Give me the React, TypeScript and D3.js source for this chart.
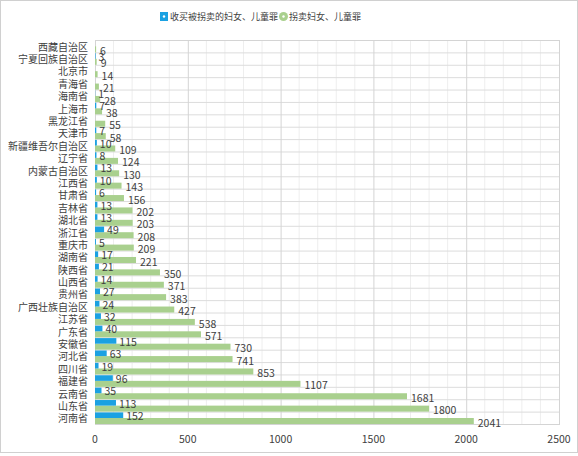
import React from "react";
import * as d3 from "d3";

const categories = [
  "西藏自治区", "宁夏回族自治区", "北京市", "青海省", "海南省", "上海市", "黑龙江省", "天津市",
  "新疆维吾尔自治区", "辽宁省", "内蒙古自治区", "江西省", "甘肃省", "吉林省", "湖北省", "浙江省",
  "重庆市", "湖南省", "陕西省", "山西省", "贵州省", "广西壮族自治区", "江苏省", "广东省",
  "安徽省", "河北省", "四川省", "福建省", "云南省", "山东省", "河南省",
];
const buyValues: (number | null)[] = [
  null, 3, null, null, 1, 7, null, 7, 10, 8, 13, 10, 6, 13, 13, 49,
  5, 17, 21, 14, 27, 24, 32, 40, 115, 63, 19, 96, 35, 113, 152,
];
const traffickValues: number[] = [
  6, 9, 14, 21, 28, 38, 55, 58, 109, 124, 130, 143, 156, 202, 203, 208,
  209, 221, 350, 371, 383, 427, 538, 571, 730, 741, 853, 1107, 1681, 1800, 2041,
];
const seriesNames = ["收买被拐卖的妇女、儿童罪", "拐卖妇女、儿童罪"];
const xTicks = [0, 500, 1000, 1500, 2000, 2500];

const W = 578, H = 456;
const BLUE = "#1ba1e2";
const GREEN = "#a9d08e";
const TEXT = "#404040";
const FONT = "'Noto Sans CJK SC', 'Liberation Sans', sans-serif";

export default function App() {
  const x = d3.scaleLinear().domain([0, 2500]).range([95, 559]);
  const y = d3.scaleBand().domain(categories).range([40, 424]).paddingInner(0);
  const bw = y.bandwidth();
  const minor = d3.range(0, 2501, 100);
  return (
    <div style={{ position: "fixed", left: 0, top: 0 }}>
      <svg width={W} height={H} style={{ display: "block", background: "#fff" }}>
        <rect x={0.5} y={0.5} width={W - 1} height={H - 4} fill="#fff" stroke="#d0d0d0" />
        {/* minor grid */}
        {minor.filter((v) => v % 500 !== 0).map((v) => (
          <line key={"m" + v} x1={x(v)} x2={x(v)} y1={40} y2={424} stroke="#eeeeee" />
        ))}
        {categories.map((c) => (
          <line key={"h" + c} x1={95} x2={559} y1={(y(c) as number) + 0.5} y2={(y(c) as number) + 0.5} stroke="#dcdcdc" />
        ))}
        {xTicks.map((v) => (
          <line key={"M" + v} x1={x(v) + 0.5} x2={x(v) + 0.5} y1={40} y2={424} stroke="#d4d4d4" />
        ))}
        <rect x={95.5} y={40.5} width={464} height={384} fill="none" stroke="#d4d4d4" />
        {/* bars */}
        {categories.map((c, i) => {
          const top = y(c) as number;
          const b = buyValues[i];
          const g = traffickValues[i];
          return (
            <g key={"b" + c}>
              <rect x={x(0)} y={top + 6.4} width={x(g) - x(0)} height={6} fill={GREEN} />
              {b !== null && (
                <rect x={x(0)} y={top + 0.8} width={Math.max(x(b) - x(0), 0)} height={5.6} fill={BLUE} />
              )}
            </g>
          );
        })}
        {/* data labels */}
        {categories.map((c, i) => {
          const top = y(c) as number;
          const b = buyValues[i];
          const g = traffickValues[i];
          return (
            <g key={"l" + c} fontFamily={FONT} fontSize={10.5} fill={TEXT}>
              {b !== null && (
                <text x={x(b) + 3} y={top + 4} dominantBaseline="central">{b}</text>
              )}
              <text x={x(g) + 4} y={top + 10.5} dominantBaseline="central">{g}</text>
            </g>
          );
        })}
        {/* category labels */}
        {categories.map((c) => (
          <text key={"c" + c} x={88} y={(y(c) as number) + bw / 2} textAnchor="end" dominantBaseline="central"
            fontFamily={FONT} fontSize={10} fill={TEXT}>{c}</text>
        ))}
        {/* x tick labels */}
        {xTicks.map((v) => (
          <text key={"t" + v} x={x(v)} y={438} textAnchor="middle" dominantBaseline="central"
            fontFamily={FONT} fontSize={10.5} fill={TEXT}>{v}</text>
        ))}
        {/* legend */}
        <g fontFamily={FONT} fontSize={9} fill={TEXT}>
          <rect x={160} y={12} width={8} height={9} fill={BLUE} />
          <circle cx={164} cy={16.5} r={1.2} fill="#fff" />
          <text x={170} y={16.5} dominantBaseline="central">{seriesNames[0]}</text>
          <circle cx={283.5} cy={16.5} r={4.5} fill={GREEN} />
          <circle cx={283.5} cy={16.5} r={1.2} fill="#fff" />
          <text x={289} y={16.5} dominantBaseline="central">{seriesNames[1]}</text>
        </g>
      </svg>
    </div>
  );
}
